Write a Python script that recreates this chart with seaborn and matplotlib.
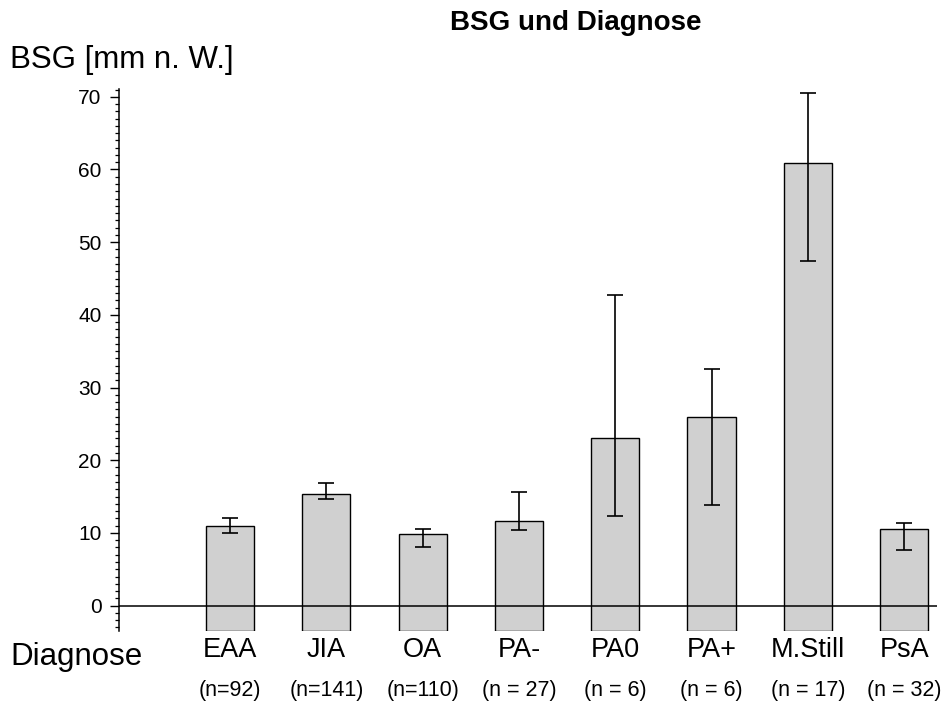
import numpy as np
import pandas as pd
import seaborn as sns
import matplotlib.pyplot as plt
from matplotlib.ticker import MultipleLocator

# Daten
diagnosen = ['EAA', 'JIA', 'OA', 'PA-', 'PA0', 'PA+', 'M.Still', 'PsA']
n_labels = ['(n=92)', '(n=141)', '(n=110)', '(n = 27)', '(n = 6)', '(n = 6)', '(n = 17)', '(n = 32)']
bsg_mittel = [10.9, 15.3, 9.9, 11.6, 23.1, 25.9, 60.9, 10.5]
fehler_unten = [10.0, 14.6, 8.0, 10.4, 12.3, 13.8, 47.4, 7.7]
fehler_oben = [12.1, 16.9, 10.6, 15.6, 42.7, 32.6, 70.5, 11.3]

df = pd.DataFrame({'Diagnose': diagnosen, 'BSG': bsg_mittel})

sns.set_style('white')
plt.rcParams['font.family'] = ['Liberation Sans', 'DejaVu Sans']
plt.rcParams['text.color'] = 'black'
plt.rcParams['xtick.color'] = 'black'
plt.rcParams['ytick.color'] = 'black'
plt.rcParams['axes.labelcolor'] = 'black'

fig = plt.figure(figsize=(9.47, 7.06), dpi=100)
ax = fig.add_axes([0.1257, 0.1062, 0.8636, 0.768])

ymin, ymax = -3.5, 71.1

sns.barplot(data=df, x='Diagnose', y='BSG', order=diagnosen, width=0.5,
            color='#d0d0d0', saturation=1, edgecolor='black', linewidth=1,
            errorbar=None, ax=ax)

# Balken starten unten an der Achse
for p, v in zip(ax.patches, bsg_mittel):
    p.set_y(ymin)
    p.set_height(v - ymin)

# asymmetrische Fehlerbalken
xs = np.arange(len(diagnosen))
m = np.array(bsg_mittel)
yerr = [m - np.array(fehler_unten), np.array(fehler_oben) - m]
ax.errorbar(xs, m, yerr=yerr, fmt='none', ecolor='black', elinewidth=1.2,
            capsize=5.5, capthick=1.2, zorder=5)

ax.axhline(0, color='black', lw=1.1, zorder=1)

ax.set_xlim(-1.153, 7.34)
ax.set_ylim(ymin, ymax)

for s in ['top', 'right', 'bottom']:
    ax.spines[s].set_visible(False)
ax.spines['left'].set_color('black')
ax.spines['left'].set_linewidth(1.1)

ax.set_yticks(range(0, 71, 10))
ax.yaxis.set_minor_locator(MultipleLocator(1))
ax.tick_params(axis='y', which='major', left=True, length=6.5, width=1, pad=6,
               labelsize=15)
ax.tick_params(axis='y', which='minor', left=True, length=3, width=0.9)
ax.tick_params(axis='x', length=0, pad=4.5)
ax.set_xticks(xs)
ax.set_xticklabels(diagnosen, fontsize=19.5)

for x, lab in zip(xs, n_labels):
    ax.annotate(lab, xy=(x, 0), xycoords=('data', 'axes fraction'),
                xytext=(0, -43), textcoords='offset points',
                ha='center', va='center', fontsize=15.5)

ax.set_xlabel('')
ax.set_ylabel('')

fig.text(10 / 947, 1 - 68 / 706, 'BSG [mm n. W.]', fontsize=22.5, va='baseline', ha='left')
fig.text(10 / 947, 1 - 665 / 706, 'Diagnose', fontsize=22.5, va='baseline', ha='left')
fig.text(576 / 947, 1 - 30 / 706, 'BSG und Diagnose', fontsize=20, fontweight='bold',
         va='baseline', ha='center')

fig.savefig('out.png', dpi=100)
